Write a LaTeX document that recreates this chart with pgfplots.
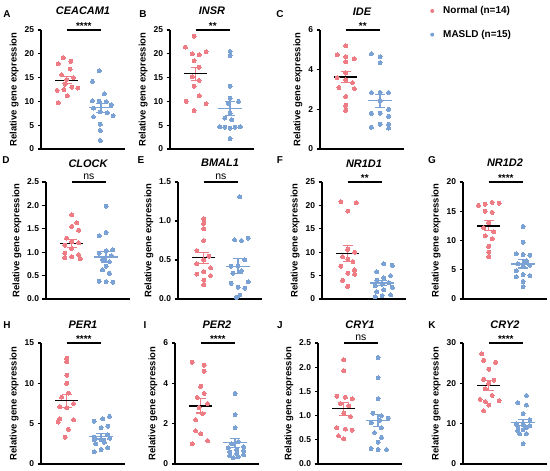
\documentclass[border=0pt]{standalone}
\usepackage{pgfplots}
\pgfplotsset{compat=1.18}
\usepackage{fontspec}
\setmainfont{Liberation Sans}
\definecolor{pinkc}{RGB}{238,124,132}
\definecolor{bluec}{RGB}{122,162,212}
\newcommand{\tfont}{\bfseries\itshape\fontsize{11}{12}\selectfont}
\pgfplotsset{
  dp/.style={scale only axis, width=84bp, xmin=0.25, xmax=2.7, ymin=0, clip=false,
    axis x line*=bottom, axis y line*=left, xtick=\empty,
    tick align=outside, major tick length=3.5bp,
    axis line style={line width=1.1bp, black},
    every tick/.style={black, line width=1.1bp},
    ylabel={Relative gene expression},
    ylabel style={font=\bfseries\fontsize{9.5}{10}\selectfont, yshift=-1bp},
    tick label style={font=\bfseries\fontsize{8.5}{9}\selectfont},
    /pgf/number format/assume math mode=true,
    anchor=south west},
  onedec/.style={yticklabel style={/pgf/number format/.cd, fixed, fixed zerofill, precision=1}},
  nrm/.style={only marks, mark=*, mark size=2bp, mark options={draw=pinkc, fill=pinkc, line width=0pt}, forget plot},
  msd/.style={only marks, mark=*, mark size=2bp, mark options={draw=bluec, fill=bluec, line width=0pt}, forget plot},
  mline/.style={line width=1.3bp, mark=none, forget plot},
  ebar/.style={line width=1.1bp, mark=none, unbounded coords=jump, forget plot},
}
\newcommand{\stats}[6]{%
  \addplot[ebar, pinkc] coordinates {(0.85,#2)(1.15,#2)(1.15,nan)(1,#2)(1,#3)(1,nan)(0.85,#3)(1.15,#3)};
  \addplot[mline, black] coordinates {(0.66,#1)(1.34,#1)};
  \addplot[ebar, bluec] coordinates {(1.85,#5)(2.15,#5)(2.15,nan)(2,#5)(2,#6)(2,nan)(1.85,#6)(2.15,#6)};
  \addplot[mline, bluec] coordinates {(1.66,#4)(2.34,#4)};
}
\newcommand{\sigstar}[2]{%
  \addplot[mline, black] coordinates {(1,#1)(2,#1)};
  \node[anchor=base, inner sep=0pt, yshift=0.5bp, font=\bfseries\fontsize{10}{11}\selectfont] at (axis cs:1.5,#1) {#2};
}
\newcommand{\signs}[1]{%
  \addplot[mline, black] coordinates {(1,#1)(2,#1)};
  \node[anchor=base, inner sep=0pt, yshift=2.5bp, font=\fontsize{10.5}{11}\selectfont] at (axis cs:1.5,#1) {ns};
}
\newcommand{\ttl}[1]{\node[anchor=base, inner sep=0pt, yshift=15bp, font=\tfont] at (rel axis cs:0.5,1) {#1};}
\begin{document}
\begin{tikzpicture}
\path[use as bounding box] (0,0) rectangle (550bp,471bp);
\tikzset{lett/.style={font=\bfseries\fontsize{10}{11}\selectfont, inner sep=0pt}}
\node[lett] at (7bp,457bp) {A};
\node[lett] at (143bp,457bp) {B};
\node[lett] at (280bp,457bp) {C};
\node[lett] at (6bp,311bp) {D};
\node[lett] at (141bp,311bp) {E};
\node[lett] at (280bp,311bp) {F};
\node[lett] at (432bp,311bp) {G};
\node[lett] at (7bp,146bp) {H};
\node[lett] at (145bp,146bp) {I};
\node[lett] at (280bp,146bp) {J};
\node[lett] at (432bp,146bp) {K};

% ---------- A ----------
\begin{axis}[dp, at={(41bp,322bp)}, height=119bp, ymax=25, ytick={0,5,10,15,20,25}]
\addplot[nrm] coordinates {(0.9,19.2)(1.12,18.4)(0.75,17.9)(1.1,16.8)(0.85,15.6)(1.2,15.0)(1.0,14.6)(0.95,13.6)(1.15,13.0)(1.32,12.8)(0.72,12.3)(0.92,12.5)(1.02,11.2)(0.75,9.7)};
\addplot[msd] coordinates {(1.95,16.4)(1.75,14.2)(2.1,11.6)(1.75,10.1)(1.95,10.0)(2.15,9.9)(2.3,9.3)(1.78,8.6)(1.98,7.8)(2.18,7.6)(2.35,7.0)(1.78,6.8)(1.98,5.2)(1.98,3.9)(1.98,1.8)};
\stats{14.45}{15.17}{13.73}{8.68}{9.63}{7.73}
\sigstar{25}{****}
\ttl{CEACAM1}
\end{axis}

% ---------- B ----------
\begin{axis}[dp, at={(170bp,322bp)}, height=119bp, ymax=25, ytick={0,5,10,15,20,25}]
\addplot[nrm] coordinates {(0.95,23.7)(0.7,21.4)(1.3,20.4)(0.9,20.0)(1.1,19.8)(0.95,18.5)(1.1,17.2)(0.9,15.2)(1.1,14.4)(0.95,13.2)(1.1,11.2)(0.72,10.0)(1.3,9.5)(0.95,8.1)};
\addplot[msd] coordinates {(2.0,20.5)(2.0,19.6)(2.0,13.2)(2.0,10.7)(2.25,10.0)(1.95,9.6)(2.0,7.5)(1.85,6.5)(2.05,6.1)(1.7,4.7)(1.85,4.6)(2.0,4.4)(2.15,4.6)(2.3,4.7)(2.0,2.2)};
\stats{15.8}{17.15}{14.45}{8.5}{9.92}{7.08}
\sigstar{25}{**}
\ttl{INSR}
\end{axis}

% ---------- C ----------
\begin{axis}[dp, at={(320bp,322bp)}, height=119bp, ymax=6, ytick={0,2,4,6},
  legend style={at={(axis description cs:1.31,1.215)}, anchor=north west, draw=none, fill=none,
    font=\bfseries\fontsize{10}{12}\selectfont, row sep=11bp, inner sep=0pt},
  legend cell align=left]
\addplot[nrm] coordinates {(1.0,5.2)(0.75,4.75)(1.0,4.65)(1.25,4.55)(1.0,4.4)(1.0,3.85)(0.75,3.6)(1.0,3.5)(1.2,3.35)(0.8,3.1)(1.25,3.05)(1.0,2.65)(1.0,2.2)(1.0,1.95)};
\addplot[msd] coordinates {(1.75,4.8)(2.0,4.65)(2.0,4.35)(1.75,2.85)(2.0,2.85)(2.25,2.85)(2.0,2.4)(2.25,2.0)(1.75,1.8)(2.0,1.8)(2.25,1.65)(2.0,1.25)(2.25,1.25)(1.75,1.1)(2.25,1.05)};
\stats{3.63}{3.90}{3.36}{2.44}{2.77}{2.11}
\sigstar{6}{**}
\ttl{IDE}
\addlegendimage{legend image code/.code={\path[draw=none, fill=none] (-2bp,-2bp) rectangle (9bp,2bp); \fill[pinkc, draw=none] (0bp,0bp) circle (2bp);}}
\addlegendentry{Normal (n=14)}
\addlegendimage{legend image code/.code={\path[draw=none, fill=none] (-2bp,-2bp) rectangle (9bp,2bp); \fill[bluec, draw=none] (0bp,0bp) circle (2bp);}}
\addlegendentry{MASLD (n=15)}
\end{axis}

% ---------- D ----------
\begin{axis}[dp, onedec, at={(46bp,172bp)}, height=117bp, ymax=2.5, ytick={0,0.5,1,1.5,2,2.5}]
\addplot[nrm] coordinates {(1.0,1.80)(1.15,1.63)(1.0,1.55)(1.2,1.47)(0.85,1.30)(1.0,1.22)(1.2,1.20)(0.8,1.15)(1.0,1.08)(0.8,0.98)(1.2,0.95)(1.0,0.90)(0.8,0.88)(1.25,0.86)};
\addplot[msd] coordinates {(2.0,1.98)(2.0,1.42)(1.8,1.35)(2.2,1.05)(2.0,1.03)(1.8,0.98)(2.15,0.92)(1.9,0.85)(2.1,0.80)(2.0,0.70)(1.9,0.62)(2.1,0.55)(1.8,0.38)(2.0,0.37)(2.2,0.36)};
\stats{1.19}{1.27}{1.11}{0.90}{1.01}{0.79}
\signs{2.5}
\ttl{CLOCK}
\end{axis}

% ---------- E ----------
\begin{axis}[dp, onedec, at={(178bp,172bp)}, height=117bp, ymax=1.5, ytick={0,0.5,1,1.5}]
\addplot[nrm] coordinates {(1.0,1.03)(1.0,0.97)(1.0,0.90)(1.0,0.75)(0.8,0.62)(1.15,0.55)(1.0,0.50)(0.8,0.45)(1.2,0.40)(1.0,0.35)(0.8,0.32)(1.2,0.30)(1.0,0.24)(1.0,0.18)};
\addplot[msd] coordinates {(2.05,1.31)(2.3,0.78)(1.9,0.76)(2.1,0.75)(2.2,0.50)(1.8,0.42)(2.0,0.42)(2.1,0.36)(1.85,0.33)(2.3,0.22)(1.8,0.20)(2.0,0.15)(2.2,0.14)(2.05,0.05)(1.95,0.02)};
\stats{0.53}{0.60}{0.46}{0.42}{0.515}{0.325}
\signs{1.5}
\ttl{BMAL1}
\end{axis}

% ---------- F ----------
\begin{axis}[dp, at={(322bp,172bp)}, height=117bp, ymax=25, ytick={0,5,10,15,20,25}]
\addplot[nrm] coordinates {(0.8,20.8)(1.25,20.6)(1.0,18.8)(1.0,10.6)(1.2,10.0)(0.85,9.0)(1.0,8.5)(1.15,8.0)(0.8,7.0)(1.2,6.2)(1.0,5.5)(1.2,5.3)(0.85,4.0)(1.0,2.7)};
\addplot[msd] coordinates {(2.05,7.5)(2.3,7.2)(1.85,5.8)(2.25,5.0)(2.05,4.5)(1.85,4.0)(2.2,3.5)(2.0,3.2)(1.8,2.8)(2.3,2.5)(2.05,2.0)(1.85,1.5)(2.25,0.9)(2.0,0.7)(1.8,0.5)};
\stats{9.7}{11.35}{8.05}{3.4}{4.0}{2.8}
\sigstar{25}{**}
\ttl{NR1D1}
\end{axis}

% ---------- G ----------
\begin{axis}[dp, at={(463bp,172bp)}, height=117bp, ymax=20, ytick={0,5,10,15,20}]
\addplot[nrm] coordinates {(0.7,16.0)(0.9,16.2)(1.1,16.5)(1.3,16.4)(0.9,15.0)(1.1,14.8)(1.0,13.0)(0.85,12.2)(1.15,11.5)(0.9,10.8)(1.1,10.3)(1.0,9.0)(1.0,8.0)(1.0,7.2)};
\addplot[msd] coordinates {(2.0,12.4)(2.0,9.7)(1.8,7.7)(2.0,7.6)(2.2,7.5)(2.1,6.5)(1.85,6.0)(2.2,5.8)(2.0,5.5)(1.8,4.8)(2.0,4.2)(2.2,4.0)(1.8,3.8)(2.0,3.0)(2.0,2.1)};
\stats{12.5}{13.35}{11.65}{6.0}{6.7}{5.3}
\sigstar{20}{****}
\ttl{NR1D2}
\end{axis}

% ---------- H ----------
\begin{axis}[dp, at={(41bp,7bp)}, height=121bp, ymax=15, ytick={0,5,10,15}]
\addplot[nrm] coordinates {(1.0,13.1)(1.0,12.7)(1.0,11.0)(1.0,10.0)(1.05,8.8)(0.85,8.3)(1.2,7.5)(0.8,7.1)(1.0,7.0)(0.8,5.6)(1.2,5.5)(0.75,5.2)(1.05,4.3)(0.95,3.3)};
\addplot[msd] coordinates {(2.25,5.9)(2.05,5.6)(1.8,5.3)(2.2,4.7)(2.0,4.5)(2.2,3.6)(1.8,3.3)(2.0,3.0)(2.25,3.2)(1.8,3.0)(2.1,2.7)(1.85,2.5)(2.2,2.0)(2.0,1.8)(1.8,1.5)};
\stats{7.85}{8.65}{7.05}{3.45}{3.8}{3.1}
\sigstar{15}{****}
\ttl{PER1}
\end{axis}

% ---------- I ----------
\begin{axis}[dp, at={(175bp,7bp)}, height=121bp, ymax=6, ytick={0,2,4,6}]
\addplot[nrm] coordinates {(0.75,5.05)(1.1,4.9)(1.1,4.6)(1.0,3.85)(1.1,3.5)(0.9,3.3)(1.2,3.0)(0.95,2.8)(1.05,2.5)(0.85,2.2)(0.85,1.65)(1.0,1.5)(1.2,1.15)(0.75,1.0)};
\addplot[msd] coordinates {(2.0,3.5)(2.0,2.45)(2.0,1.8)(2.1,1.1)(1.9,1.0)(2.25,0.85)(1.8,0.8)(2.05,0.7)(2.25,0.65)(1.85,0.6)(2.05,0.5)(2.25,0.45)(1.85,0.4)(2.1,0.35)(1.95,0.3)};
\stats{2.88}{3.23}{2.53}{1.05}{1.27}{0.83}
\sigstar{6}{****}
\ttl{PER2}
\end{axis}

% ---------- J ----------
\begin{axis}[dp, onedec, at={(318bp,7bp)}, height=121bp, ymax=2.5, ytick={0,0.5,1,1.5,2,2.5}]
\addplot[nrm] coordinates {(1.0,2.15)(1.0,1.93)(0.8,1.40)(1.05,1.38)(1.25,1.35)(0.9,1.25)(1.15,1.2)(1.0,1.05)(1.2,0.98)(0.8,0.75)(1.05,0.72)(1.25,0.70)(0.85,0.58)(1.0,0.52)};
\addplot[msd] coordinates {(2.0,2.2)(2.0,1.78)(2.0,1.35)(1.85,1.05)(2.1,1.0)(2.3,0.95)(2.05,0.9)(1.8,0.85)(2.1,0.75)(1.9,0.65)(2.1,0.55)(2.0,0.45)(1.8,0.32)(2.0,0.30)(2.25,0.30)};
\stats{1.14}{1.27}{1.01}{0.90}{1.03}{0.77}
\signs{2.5}
\ttl{CRY1}
\end{axis}

% ---------- K ----------
\begin{axis}[dp, at={(463bp,7bp)}, height=121bp, ymax=30, ytick={0,10,20,30}]
\addplot[nrm] coordinates {(0.8,27.3)(0.85,25.7)(1.2,25.2)(1.0,23.5)(0.85,21.0)(1.15,20.8)(1.0,20.0)(0.9,18.7)(1.1,17.0)(0.75,16.0)(1.3,15.7)(0.9,15.5)(1.0,14.6)(0.85,13.2)};
\addplot[msd] coordinates {(2.1,17.0)(1.85,15.2)(2.1,14.6)(2.0,12.5)(2.2,11.0)(1.8,10.0)(2.0,9.8)(2.2,9.5)(1.85,9.3)(2.1,9.0)(2.0,8.5)(1.85,8.2)(1.9,7.5)(2.1,7.5)(2.0,5.0)};
\stats{19.5}{20.7}{18.3}{10.3}{11.1}{9.5}
\sigstar{30}{****}
\ttl{CRY2}
\end{axis}
\end{tikzpicture}
\end{document}
